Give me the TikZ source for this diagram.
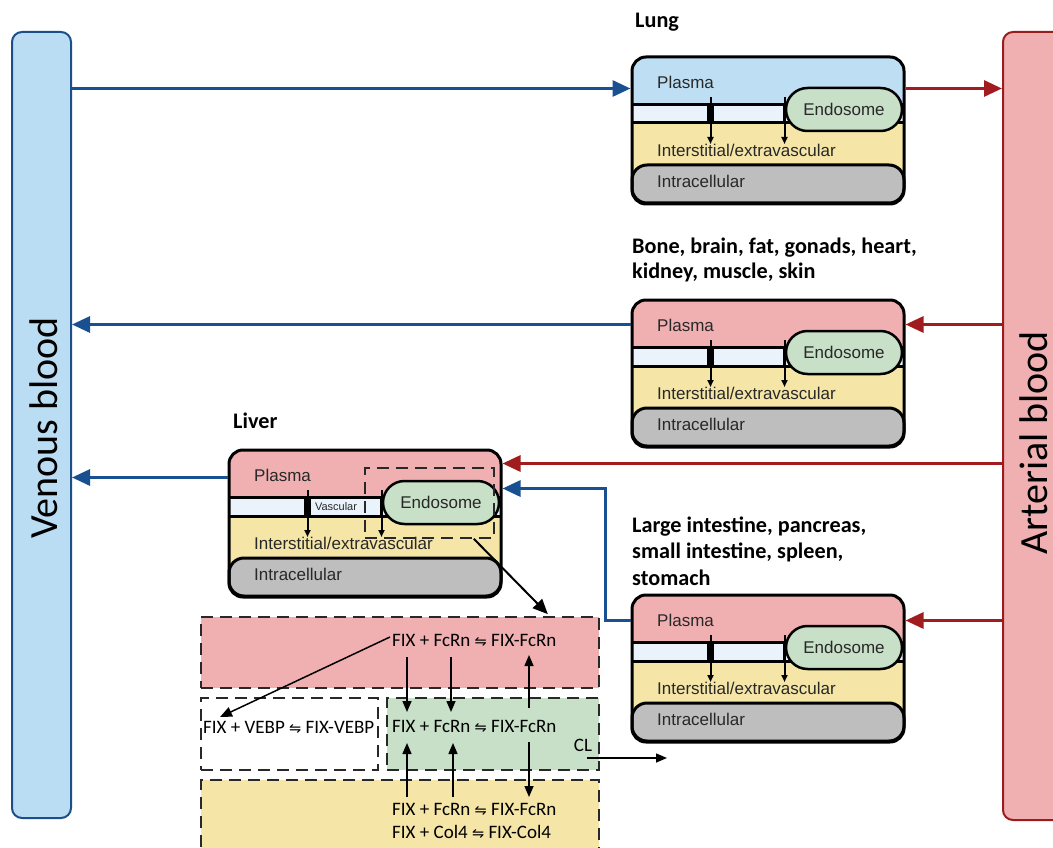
\documentclass[tikz,border=0pt]{standalone}
\usepackage{fontspec}
\setmainfont{Liberation Sans}
\newfontfamily\carl{Carlito}
\newfontfamily\dejavu{DejaVu Sans}
\usetikzlibrary{arrows.meta,shapes.misc}

% compartment and vessel colours
\definecolor{lungblue}{RGB}{190,222,244}
\definecolor{plasmapink}{RGB}{240,176,178}
\definecolor{vasc}{RGB}{234,243,251}
\definecolor{endogreen}{RGB}{200,223,200}
\definecolor{interyellow}{RGB}{245,230,168}
\definecolor{intragray}{RGB}{190,190,190}
\definecolor{venfill}{RGB}{187,221,244}
\definecolor{venline}{RGB}{28,78,138}
\definecolor{artfill}{RGB}{240,176,178}
\definecolor{artline}{RGB}{155,28,28}
\definecolor{flowblue}{RGB}{25,80,145}
\definecolor{flowred}{RGB}{160,28,30}
\definecolor{txtgray}{RGB}{40,40,40}
\definecolor{dashgray}{RGB}{40,40,40}

% reversible binding sign
\newcommand\rxn{{\dejavu\fontsize{14.5}{14.5}\selectfont ⇋}}

\tikzset{
  orgtxt/.style={font=\fontsize{17}{20}\selectfont, text=txtgray, inner sep=0pt, anchor=west},
  title/.style={font=\carl\bfseries\fontsize{22.2}{26}\selectfont, inner sep=0pt, anchor=base west},
  bartxt/.style={font=\carl\fontsize{40}{44}\selectfont, inner sep=0pt, rotate=90},
  organframe/.style={draw, line width=3pt, rounded corners=14pt, minimum width=272pt,
    minimum height=147pt, inner sep=0pt},
  endosome/.style={rounded rectangle, draw, line width=2.5pt, fill=endogreen,
    minimum width=116pt, minimum height=43pt, inner sep=0pt,
    font=\fontsize{17}{20}\selectfont, text=txtgray},
  flux/.style={line width=2pt, -{Triangle[length=7pt,width=6pt]}},
  bluearr/.style={draw=flowblue, line width=3pt, -{Triangle[length=18pt,width=16pt]}},
  redarr/.style={draw=flowred, line width=3pt, -{Triangle[length=18pt,width=16pt]}},
  panel/.style={draw=dashgray, line width=1.7pt, dash pattern=on 12pt off 7pt,
    inner sep=0pt},
  eq/.style={font=\carl\fontsize{19}{22}\selectfont, inner sep=0pt, anchor=west},
  rx/.style={line width=1.5pt, -{Triangle[length=11pt,width=9pt]}},
  pics/organ/.style={code={
    \begin{scope}
      \clip[rounded corners=14pt] (0,0) rectangle (272,147);
      \fill[#1] (0,0) rectangle (272,48);
      \fill[vasc] (0,48) rectangle (272,66);
      \fill[interyellow] (0,66) rectangle (272,147);
      \draw[line width=2.5pt] (0,47.5) -- (272,47.5);
      \draw[line width=3pt] (0,66) -- (272,66);
    \end{scope}
    \fill (75,47) rectangle (82,66);
    \draw[line width=3pt] (152.5,47) -- (152.5,66);
    \node[endosome] (-endo) at (212,52.5) {Endosome};
    \draw[line width=3pt, fill=intragray, rounded corners=15pt] (0,108) rectangle (272,146);
    \draw[flux] (78.5,40) -- (78.5,87);
    \draw[flux] (152.5,40) -- (152.5,87);
    \node[orgtxt] (-plasma) at (25,25) {Plasma};
    \node[orgtxt] (-inter) at (25,93) {Interstitial/extravascular};
    \node[orgtxt] (-intra) at (25,124) {Intracellular};
    \node[organframe] (-box) at (136,73.5) {};
  }}
}

\begin{document}
\begin{tikzpicture}[x=1pt,y=-1pt]
\useasboundingbox (0,0) rectangle (1053,848);
\clip (0,0) rectangle (1053,848);
\fill[white] (0,0) rectangle (1053,848);

% blood pools
\node[draw=venline, fill=venfill, line width=2pt, rounded corners=10pt,
  minimum width=59pt, minimum height=786pt, inner sep=0pt] (venous) at (41.5,425) {};
\node[bartxt] (venousT) at (44,428) {Venous blood};
\node[draw=artline, fill=artfill, line width=2pt, rounded corners=10pt,
  minimum width=67pt, minimum height=788pt, inner sep=0pt] (arterial) at (1036.5,426) {};
\node[bartxt] (arterialT) at (1034,443) {Arterial blood};

% organs
\node[title] (lungT) at (635,28) {Lung};
\pic (lung) at (632,57) {organ=lungblue};

\node[title] (boneT1) at (632,253) {Bone, brain, fat, gonads, heart,};
\node[title] (boneT2) at (632,278) {kidney, muscle, skin};
\pic (bone) at (632,300) {organ=plasmapink};

\node[title] (liverT) at (233,428) {Liver};
\pic (liver) at (229,450) {organ=plasmapink};
\node[font=\fontsize{11}{12}\selectfont, text=txtgray, inner sep=0pt] (liverV) at (336,507) {Vascular};
\node[panel, minimum width=129pt, minimum height=70pt] (liverZ) at (429.5,503) {};

\node[title] (liT1) at (632,532) {Large intestine, pancreas,};
\node[title] (liT2) at (632,558) {small intestine, spleen,};
\node[title] (liT3) at (632,585) {stomach};
\pic (li) at (632,595) {organ=plasmapink};

% blood flow between pools and organs
\coordinate (lungIn)   at ([shift={(0,33)}]lung-box.north west);
\coordinate (lungOut)  at ([shift={(0,33)}]lung-box.north east);
\coordinate (boneIn)   at ([shift={(0,26)}]bone-box.north east);
\coordinate (boneOut)  at ([shift={(0,26)}]bone-box.north west);
\coordinate (liverIn)  at ([shift={(0,15)}]liver-box.north east);
\coordinate (liverGut) at ([shift={(0,40)}]liver-box.north east);
\coordinate (liverOut) at ([shift={(0,29)}]liver-box.north west);
\coordinate (liIn)     at ([shift={(0,27)}]li-box.north east);
\coordinate (liOut)    at ([shift={(0,27)}]li-box.north west);

\draw[bluearr] (venous.east |- lungIn) -- (lungIn);
\draw[redarr] (lungOut) -- (arterial.west |- lungOut);
\draw[redarr] (arterial.west |- boneIn) -- (boneIn);
\draw[bluearr] (boneOut) -- (venous.east |- boneOut);
\draw[redarr] (arterial.west |- liverIn) -- (liverIn);
\draw[bluearr] (liverOut) -- (venous.east |- liverOut);
\draw[redarr] (arterial.west |- liIn) -- (liIn);
\draw[bluearr] (liOut) -- ++(-25,0) |- (liverGut);

% liver binding detail
\node[panel, fill=plasmapink, minimum width=398pt, minimum height=71pt] (pinkP) at (400,652.5) {};
\node[panel, minimum width=177pt, minimum height=72pt] (vebpP) at (289.5,734) {};
\node[panel, fill=endogreen, minimum width=212pt, minimum height=72pt] (clP) at (493,734) {};
\node[panel, fill=interyellow, minimum width=398pt, minimum height=80pt] (yelP) at (400,820) {};

\draw[line width=2pt, -{Triangle[length=15pt,width=13pt]}]
  ([shift={(-21,0)}]liverZ.south east) -- ([shift={(-52,-2)}]pinkP.north east);

\node[eq] (eqP) at (392,640) {FIX + FcRn \rxn{} FIX-FcRn};
\node[eq] (eqG) at (392,726) {FIX + FcRn \rxn{} FIX-FcRn};
\node[eq] (eqV) at (203,727) {FIX + VEBP \rxn{} FIX-VEBP};
\node[eq] (eqY1) at (392,809) {FIX + FcRn \rxn{} FIX-FcRn};
\node[eq] (eqY2) at (392,832) {FIX + Col4 \rxn{} FIX-Col4};
\node[font=\carl\fontsize{19}{22}\selectfont, inner sep=0pt] (cl) at (583,745) {CL};

\draw[rx] ([shift={(15,17)}]eqP.west) -- ([shift={(15,-14)}]eqG.west);
\draw[rx] ([shift={(59,17)}]eqP.west) -- ([shift={(59,-14)}]eqG.west);
\draw[rx] ([shift={(137,-18)}]eqG.west) -- ([shift={(137,15)}]eqP.west);
\draw[rx] ([shift={(15,-12)}]eqY1.west) -- ([shift={(15,17)}]eqG.west);
\draw[rx] ([shift={(61,-12)}]eqY1.west) -- ([shift={(61,17)}]eqG.west);
\draw[rx] ([shift={(137,16)}]eqG.west) -- ([shift={(137,-12)}]eqY1.west);
\draw[line width=1.5pt, -{Triangle[length=12pt,width=10pt]}]
  ([shift={(-2,-3)}]eqP.west) -- ([shift={(17,-10)}]eqV.west);
\coordinate (clOut) at ([shift={(84,13)}]cl.center);
\draw[rx] ([shift={(4,13)}]cl.center) -- (clOut);
\end{tikzpicture}
\end{document}
